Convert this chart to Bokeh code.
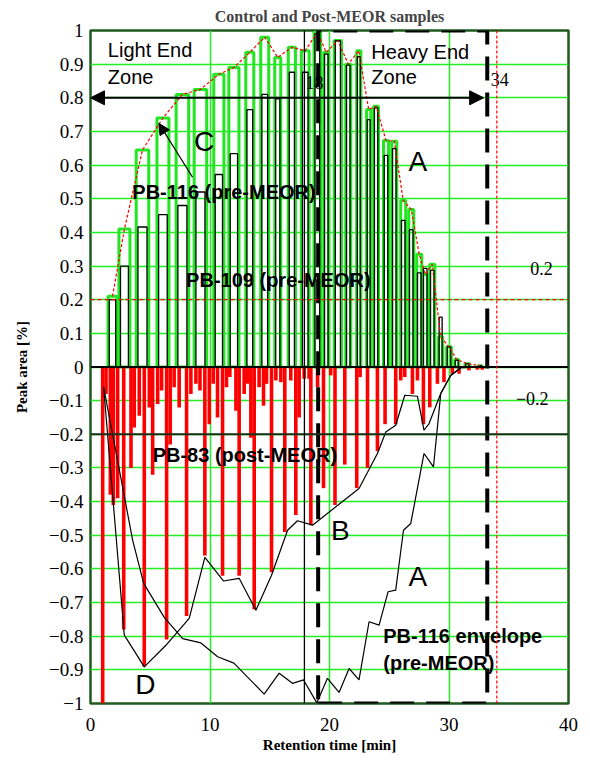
from bokeh.plotting import figure
from bokeh.models import (Range1d, FixedTicker, CustomJSTickFormatter, Span, Arrow,
                          NormalHead, ColumnDataSource)
from bokeh.core.properties import value
from bokeh.embed import file_html
from bokeh.resources import INLINE

# ---------------- data ----------------
# PB-116 / PB-109 (pre-MEOR) peaks: retention time [min], bar width [min], peak area [%]
peak_rt = [1.84, 2.84, 4.35, 6.06, 7.69, 9.2, 10.74, 12.0, 13.33, 14.58, 15.67, 16.85,
           17.97, 18.98, 19.73, 20.7, 21.57, 22.45, 23.28, 23.9, 24.73, 25.42, 26.17,
           26.84, 27.51, 28.01, 28.6, 29.3, 30.0, 30.65, 31.53, 32.6]
peak_width = [0.75, 0.92, 1.05, 1.0, 1.05, 1.05, 0.85, 0.85, 0.67, 0.67, 0.5, 0.6,
              0.65, 0.55, 0.42, 0.6, 0.42, 0.35, 0.35, 0.4, 0.42, 0.42, 0.42,
              0.42, 0.42, 0.42, 0.42, 0.35, 0.4, 0.35, 0.4, 0.35]
pb116 = [0.21, 0.41, 0.645, 0.74, 0.81, 0.825, 0.87, 0.89, 0.935, 0.98, 0.92, 0.95,
         0.94, 0.995, 0.935, 0.97, 0.90, 0.94, 0.765, 0.775, 0.673, 0.671, 0.495,
         0.468, 0.335, 0.275, 0.305, 0.09, 0.06, 0.022, 0.01, 0.004]
pb109 = [0.20, 0.30, 0.416, 0.453, 0.48, 0.52, 0.572, 0.634, 0.765, 0.81, 0.797, 0.876,
         0.876, 0.99, 0.93, 0.97, 0.897, 0.922, 0.735, 0.77, 0.629, 0.649, 0.436,
         0.408, 0.28, 0.293, 0.287, 0.148, 0.06, 0.02, 0.01, 0.004]

# PB-83 (post-MEOR) peaks, plotted downwards
pb83_rt = [1.02, 1.3, 1.66, 1.91, 2.27, 2.78, 3.39, 3.66, 4.08, 4.5, 4.92, 5.2, 5.62,
           5.95, 6.37, 6.67, 7.0, 7.42, 8.04, 8.4, 8.82, 9.16, 9.57, 9.94, 10.27,
           10.63, 11.05, 11.38, 11.66, 12.17, 12.44, 12.86, 13.14, 13.42, 13.7, 14.11,
           14.48, 14.73, 15.15, 15.51, 15.93, 16.26, 16.76, 17.18, 17.46, 17.88, 18.29,
           18.44, 19.0, 19.5, 20.1, 20.46, 21.28, 22.28, 22.56, 23.18, 24.01, 24.65,
           25.54, 25.96, 26.3, 26.94, 27.36, 27.86, 28.39, 29.03, 29.58, 30.28, 30.84,
           31.67, 32.37, 32.79]
pb83 = [-1.0, -0.08, -0.38, -0.41, -0.39, -0.78, -0.30, -0.18, -0.145, -0.89, -0.12,
        -0.32, -0.11, -0.07, -0.81, -0.23, -0.06, -0.12, -0.74, -0.08, -0.05, -0.07,
        -0.56, -0.17, -0.05, -0.15, -0.62, -0.06, -0.03, -0.13, -0.62, -0.08, -0.05,
        -0.21, -0.72, -0.06, -0.115, -0.05, -0.61, -0.04, -0.045, -0.49, -0.04, -0.44,
        -0.15, -0.035, -0.035, -0.47, -0.06, -0.36, -0.025, -0.41, -0.29, -0.36, -0.03,
        -0.30, -0.25, -0.17, -0.17, -0.04, -0.03, -0.08, -0.04, -0.17, -0.12, -0.05,
        -0.045, -0.02, -0.02, -0.01, -0.008, -0.008]

# PB-116 envelope (pre-MEOR) curves drawn in the negative half
env_bd_rt = [1.1, 2.83, 4.5, 6.31, 8.26, 9.57, 11.14, 12.44, 13.84, 15.15, 16.49, 17.32,
             18.58, 22.47, 24.01, 24.71, 25.54, 26.3, 27.36, 27.91, 28.33, 29.31, 30.14,
             30.98, 32.65]
env_bd = [-0.06, -0.797, -0.891, -0.827, -0.747, -0.566, -0.636, -0.628, -0.723, -0.619,
          -0.485, -0.457, -0.47, -0.361, -0.257, -0.193, -0.173, -0.084, -0.087, -0.188,
          -0.168, -0.079, -0.025, -0.002, 0.0]
env_a_rt = [1.1, 3.53, 4.45, 6.17, 7.71, 9.24, 10.64, 12.0, 14.53, 15.79, 16.9, 17.83,
            18.94, 19.83, 20.8, 21.64, 22.47, 23.31, 24.15, 24.9, 25.54, 26.19, 26.8,
            27.91, 28.7, 29.31, 30.14, 30.98, 32.65]
env_a = [-0.06, -0.515, -0.643, -0.744, -0.807, -0.82, -0.861, -0.88, -0.972, -0.91,
         -0.94, -0.93, -0.998, -0.925, -0.967, -0.896, -0.93, -0.757, -0.767, -0.668,
         -0.663, -0.485, -0.465, -0.257, -0.297, -0.079, -0.025, -0.002, 0.0]

x_ticks = [0, 10, 20, 30, 40]
y_ticks = [round(-1 + 0.1 * i, 1) for i in range(21)]

# zone markers (retention times / levels)
light_heavy_split = 17.9
heavy_box = (19.05, 33.2)
zone_end = 32.9
cutoff_rt = 34.0
threshold = 0.2
neg_threshold = -0.2
arrow_level = 0.8

SERIF = "Liberation Serif"
SANS = "Liberation Sans"

p = figure(width=588, height=759, x_range=Range1d(0, 40), y_range=Range1d(-1, 1),
           output_backend="svg", toolbar_location=None,
           min_border_left=90, min_border_right=20, min_border_top=30, min_border_bottom=56)

p.title.text = "Control and Post-MEOR samples"
p.title.align = "center"
p.title.text_font = SERIF
p.title.text_font_size = "16px"
p.title.text_font_style = "bold"
p.title.standoff = 11

for ax in (p.xaxis[0], p.yaxis[0]):
    ax.axis_line_color = None
    ax.major_tick_line_color = None
    ax.minor_tick_line_color = None
    ax.major_tick_in = 0
    ax.major_tick_out = 0
    ax.major_label_text_font = SERIF
    ax.major_label_text_font_size = "19px"
    ax.major_label_text_color = "black"
    ax.axis_label_text_font = SERIF
    ax.axis_label_text_font_size = "15px"
    ax.axis_label_text_font_style = "bold"
    ax.axis_label_text_color = "black"

p.xaxis.ticker = FixedTicker(ticks=x_ticks)
p.yaxis.ticker = FixedTicker(ticks=y_ticks)
p.yaxis.formatter = CustomJSTickFormatter(code="""
    if (Math.abs(tick) < 1e-9) return "0";
    let a = Math.abs(tick);
    let s = (Math.abs(a - 1) < 1e-9) ? "1" : a.toFixed(1);
    return (tick < 0 ? "\\u2212" : "") + s;
""")
p.yaxis.major_label_text_baseline = "hanging"
p.xaxis.major_label_standoff = 14
p.yaxis.major_label_standoff = 7
p.xaxis.axis_label = "Retention time [min]"
p.yaxis.axis_label = "Peak area [%]"
p.xaxis.axis_label_standoff = 3
p.yaxis.axis_label_standoff = 16

p.xgrid.grid_line_color = "#22ee22"
p.ygrid.grid_line_color = "#22ee22"
p.xgrid.grid_line_width = 1.5
p.ygrid.grid_line_width = 1.5
p.outline_line_color = "#1e5a1e"
p.outline_line_width = 2.5

# bars
src_pre = ColumnDataSource(dict(x=peak_rt, w=peak_width, w2=[w * 0.72 for w in peak_width],
                                g=pb116, b=pb109))
p.vbar(x="x", width="w", top="g", bottom=0, source=src_pre,
       fill_color=None, line_color="#22e622", line_width=3)
p.vbar(x="x", width="w2", top="b", bottom=0, source=src_pre,
       fill_color=None, line_color="black", line_width=1.3)
p.vbar(x=pb83_rt, width=0.3, top=0, bottom=pb83, fill_color="#ff0000", line_color=None)

# envelope of PB-116 peaks
p.line(peak_rt, pb116, line_color="red", line_dash="3 2", line_width=1.2)

# envelope curves (negative half)
p.line(env_bd_rt, env_bd, line_color="black", line_width=1.2)
p.line(env_a_rt, env_a, line_color="black", line_width=1.2)

# reference lines
p.add_layout(Span(location=0, dimension="width", line_color="black", line_width=2))
p.add_layout(Span(location=neg_threshold, dimension="width", line_color="#1a2e1a", line_width=2))
p.add_layout(Span(location=threshold, dimension="width", line_color="red",
                  line_dash="4 3", line_width=1.2))
p.add_layout(Span(location=cutoff_rt, dimension="height", line_color="red",
                  line_dash="3 2", line_width=1.2))
p.add_layout(Span(location=light_heavy_split, dimension="height", line_color="black",
                  line_width=1.3))

# heavy end zone box
p.line([heavy_box[0], heavy_box[1], heavy_box[1], heavy_box[0], heavy_box[0]],
       [-1, -1, 1, 1, -1], line_color="black", line_width=4, line_dash="24 12")

# zone arrows
p.add_layout(Arrow(x_start=light_heavy_split, y_start=arrow_level, x_end=0, y_end=arrow_level,
                   line_width=2, line_color="black",
                   end=NormalHead(size=14, fill_color="black", line_color="black")))
p.add_layout(Arrow(x_start=light_heavy_split, y_start=arrow_level, x_end=zone_end,
                   y_end=arrow_level, line_width=2, line_color="black",
                   end=NormalHead(size=14, fill_color="black", line_color="black")))
# arrow to "C"
p.add_layout(Arrow(x_start=8.54, y_start=0.564, x_end=5.72, y_end=0.724,
                   line_width=1.2, line_color="black",
                   end=NormalHead(size=11, fill_color="black", line_color="black")))


def txt(x, y, s, font=SANS, size="20px", style="normal", align="left"):
    p.text(x=[x], y=[y], text=[s], text_font=value(font), text_font_size=value(size),
           text_font_style=style, text_baseline="middle", text_align=align,
           text_color="black")


txt(1.45, 0.941, "Light End")
txt(1.45, 0.862, "Zone")
txt(23.5, 0.936, "Heavy End")
txt(23.5, 0.862, "Zone")
txt(9.5, 0.67, "C", size="28px", align="center")
txt(27.4, 0.61, "A", size="28px", align="center")
txt(20.9, -0.485, "B", size="28px", align="center")
txt(27.4, -0.624, "A", size="28px", align="center")
txt(4.6, -0.945, "D", size="28px", align="center")
txt(3.5, 0.52, "PB-116 (pre-MEOR)", style="bold")
txt(8.0, 0.258, "PB-109 (pre-MEOR)", style="bold")
txt(5.2, -0.262, "PB-83  (post-MEOR)", style="bold")
txt(24.5, -0.80, "PB-116 envelope", style="bold")
txt(24.5, -0.88, "(pre-MEOR)", style="bold")
txt(18.0, 0.845, "18", font=SERIF, size="18px")
txt(33.5, 0.855, "34", font=SERIF, size="18px")
txt(36.8, 0.293, "0.2", font=SERIF, size="18px")
txt(35.6, -0.093, "\u22120.2", font=SERIF, size="18px")

open("out.html", "w").write(file_html(p, INLINE))
